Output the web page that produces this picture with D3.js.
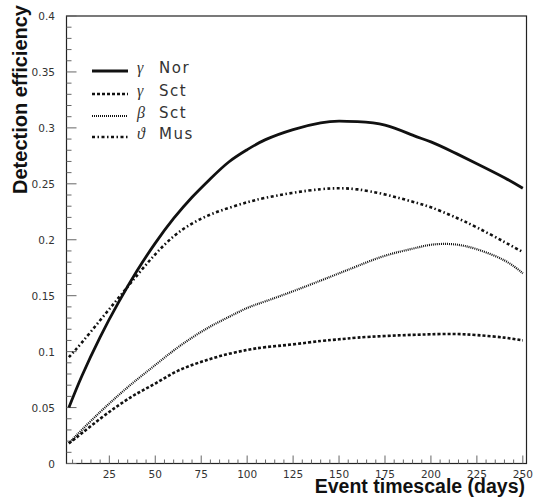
<!DOCTYPE html>
<html><head><meta charset="utf-8">
<script src="https://cdn.jsdelivr.net/npm/d3@7"></script>
<style>body{margin:0;background:#fff}svg{display:block}</style>
</head><body>
<svg id="chart" width="538" height="500"></svg>
<script>
const days     = [3,10,20,30,40,50,60,70,80,90,100,110,125,140,150,160,175,190,200,212,225,240,250];
const gammaNor = [0.050,0.078,0.113,0.144,0.172,0.197,0.219,0.238,0.2545,0.2695,0.2805,0.2895,0.2985,0.3045,0.306,0.3055,0.3025,0.2935,0.2875,0.2785,0.268,0.2555,0.246];
const gammaSct = [0.018,0.027,0.040,0.052,0.0625,0.0715,0.081,0.088,0.0935,0.098,0.1015,0.104,0.1065,0.1095,0.111,0.1125,0.114,0.115,0.1155,0.1158,0.1148,0.1125,0.110];
const betaSct  = [0.018,0.030,0.046,0.061,0.075,0.088,0.101,0.1125,0.1225,0.131,0.139,0.145,0.154,0.1635,0.170,0.1765,0.1857,0.192,0.1955,0.196,0.1915,0.1815,0.170];
const thetaMus = [0.095,0.108,0.128,0.148,0.168,0.187,0.203,0.2145,0.2225,0.2285,0.2335,0.2375,0.242,0.2452,0.246,0.245,0.2405,0.234,0.229,0.221,0.211,0.198,0.189];
const seriesNames = ["Nor","Sct","Sct","Mus"];
const seriesSymbols = ["\u03B3","\u03B3","\u03B2","\u03D1"];
const xTicks = [25,50,75,100,125,150,175,200,225,250];
const yTicks = [0,0.05,0.1,0.15,0.2,0.25,0.3,0.35,0.4];

const svg = d3.select("#chart");
const L=66.5, R=526.5, T=16, B=463.5;
const x = d3.scaleLinear().domain([1.7,252]).range([L,R]);
const y = d3.scaleLinear().domain([0,0.4]).range([B,T]);
const sans = "DejaVu Sans, Liberation Sans, Arial, sans-serif";

// frame
svg.append("rect").attr("x",L).attr("y",T).attr("width",R-L).attr("height",B-T)
  .attr("fill","none").attr("stroke","#222").attr("stroke-width",1.2);

// y ticks
const yMinor = d3.range(0,0.4001,0.01);
svg.append("g").selectAll("line").data(yMinor).join("line")
  .attr("x1",L).attr("x2",d=>L+(Math.abs(d*20-Math.round(d*20))<1e-6?10:5))
  .attr("y1",d=>y(d)).attr("y2",d=>y(d)).attr("stroke","#666").attr("stroke-width",1);
svg.append("g").selectAll("text").data(yTicks).join("text")
  .attr("x",55).attr("y",d=>y(d)+4).attr("text-anchor","end")
  .attr("font-family",sans).attr("font-size",10.5).attr("fill","#333")
  .text(d=>d3.format("~g")(d));

// x ticks
const xMinor = d3.range(5,251,5);
svg.append("g").selectAll("line").data(xMinor).join("line")
  .attr("x1",d=>x(d)).attr("x2",d=>x(d)).attr("y1",B)
  .attr("y2",d=>B-(d%25===0?8:4)).attr("stroke","#666").attr("stroke-width",1);
svg.append("g").selectAll("text").data(xTicks).join("text")
  .attr("x",d=>x(d)).attr("y",478).attr("text-anchor","middle")
  .attr("font-family",sans).attr("font-size",10.5).attr("fill","#333")
  .text(d=>d);

// titles
svg.append("text").attr("transform","translate(27,5) rotate(-90)").attr("text-anchor","end")
  .attr("font-family","Liberation Sans, Arial, sans-serif").attr("font-weight","bold").attr("font-size",20)
  .attr("fill","#111").text("Detection efficiency");
svg.append("text").attr("x",525).attr("y",492.5).attr("text-anchor","end")
  .attr("font-family","Liberation Sans, Arial, sans-serif").attr("font-weight","bold").attr("font-size",19.5)
  .attr("fill","#111").text("Event timescale (days)");

// series
const styles = [
  {w:2.8, dash:null},
  {w:2.6, dash:"3,2"},
  {w:2.2, dash:"1,1"},
  {w:2.6, dash:"3,2.5,1.5,2.5"}
];
const data = [gammaNor,gammaSct,betaSct,thetaMus];
const line = d3.line().x(d=>x(d[0])).y(d=>y(d[1])).curve(d3.curveNatural);
data.forEach((vals,i)=>{
  svg.append("path").datum(days.map((d,j)=>[d,vals[j]]))
    .attr("d",line).attr("fill","none").attr("stroke","#111")
    .attr("stroke-width",styles[i].w).attr("stroke-dasharray",styles[i].dash);
});

// legend
const legY = [71,94,116,137];
seriesNames.forEach((n,i)=>{
  svg.append("line").attr("x1",92).attr("x2",128).attr("y1",legY[i]).attr("y2",legY[i])
    .attr("stroke","#111").attr("stroke-width",styles[i].w).attr("stroke-dasharray",styles[i].dash);
  svg.append("text").attr("x",137).attr("y",legY[i]+1.5)
    .attr("font-family","Liberation Serif, Times New Roman, serif").attr("font-style","italic")
    .attr("font-size",16).attr("fill","#333").text(seriesSymbols[i]);
  svg.append("text").attr("x",159).attr("y",legY[i]+1.5)
    .attr("font-family",sans).attr("font-size",15).attr("letter-spacing",1.5).attr("fill","#333").text(n);
});
</script>
</body></html>
